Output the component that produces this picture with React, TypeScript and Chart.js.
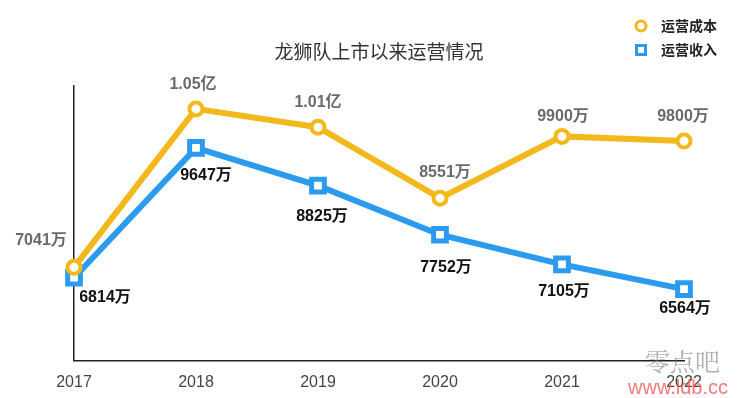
import React, { useEffect, useRef } from "react";
import { Chart, registerables } from "chart.js";

Chart.register(...registerables);

const years = ["2017", "2018", "2019", "2020", "2021", "2022"];
const costValues = [7041, 10500, 10100, 8551, 9900, 9800];
const costLabels = ["7041万", "1.05亿", "1.01亿", "8551万", "9900万", "9800万"];
const revenueValues = [6814, 9647, 8825, 7752, 7105, 6564];
const revenueLabels = ["6814万", "9647万", "8825万", "7752万", "7105万", "6564万"];
const seriesNames = ["运营成本", "运营收入"];
const chartTitle = "龙狮队上市以来运营情况";

const COST_COLOR = "#F2B81C";
const REV_COLOR = "#2C9BEE";

// label offsets (style only): [dx, dy] from point
const costLabelOffsets = [[-33, -27], [-3, -24], [0, -25], [5, -26], [1, -20], [-1, -24]];
const revLabelOffsets = [[31, 20], [10, 28], [4, 31], [6, 33], [2, 27], [1, 19]];

const overlayPlugin = {
  id: "overlay",
  afterDatasetsDraw(chart: any) {
    const ctx = chart.ctx;
    ctx.save();
    ctx.textAlign = "center";
    ctx.textBaseline = "middle";
    ctx.font = 'bold 16px "Liberation Sans", "Noto Sans CJK SC", sans-serif';
    const m0 = chart.getDatasetMeta(0);
    m0.data.forEach((pt: any, i: number) => {
      ctx.fillStyle = "#6a6a6a";
      ctx.fillText(costLabels[i], pt.x + costLabelOffsets[i][0], pt.y + costLabelOffsets[i][1]);
    });
    const m1 = chart.getDatasetMeta(1);
    m1.data.forEach((pt: any, i: number) => {
      ctx.fillStyle = "#111";
      ctx.fillText(revenueLabels[i], pt.x + revLabelOffsets[i][0], pt.y + revLabelOffsets[i][1]);
    });

    const ca = chart.chartArea;
    ctx.fillStyle = "#333";
    ctx.font = '19px "Noto Sans CJK SC", sans-serif';
    ctx.fillText(chartTitle, (ca.left + ca.right) / 2, 52);

    ctx.lineWidth = 3;
    ctx.strokeStyle = COST_COLOR;
    ctx.fillStyle = "#fff";
    ctx.beginPath();
    ctx.arc(641, 26, 5, 0, Math.PI * 2);
    ctx.fill();
    ctx.stroke();
    ctx.strokeStyle = REV_COLOR;
    ctx.beginPath();
    ctx.rect(636.5, 45.5, 9, 9);
    ctx.fill();
    ctx.stroke();
    ctx.fillStyle = "#222";
    ctx.textAlign = "left";
    ctx.font = 'bold 14px "Noto Sans CJK SC", sans-serif';
    ctx.fillText(seriesNames[0], 661, 26);
    ctx.fillText(seriesNames[1], 661, 50);

    ctx.fillStyle = "rgba(110,110,110,0.55)";
    ctx.font = '25px "Noto Serif CJK SC", "Noto Sans CJK SC", serif';
    ctx.fillText("零点吧", 645, 361);
    ctx.fillStyle = "rgba(240,90,90,0.8)";
    ctx.font = '20px "Liberation Sans", sans-serif';
    ctx.fillText("www.ldb.cc", 628, 388);
    ctx.restore();
  },
};

export default function App() {
  const ref = useRef<HTMLCanvasElement>(null);
  useEffect(() => {
    document.body.style.margin = "0";
    const chart = new Chart(ref.current!, {
      type: "line",
      data: {
        labels: years,
        datasets: [
          {
            label: seriesNames[0],
            data: costValues,
            borderColor: COST_COLOR,
            backgroundColor: "#fff",
            borderWidth: 6,
            pointStyle: "circle",
            pointRadius: 6.5,
            pointBorderWidth: 4,
            pointBackgroundColor: "#fff",
            pointBorderColor: COST_COLOR,
            tension: 0,
            clip: false,
          },
          {
            label: seriesNames[1],
            data: revenueValues,
            borderColor: REV_COLOR,
            backgroundColor: "#fff",
            borderWidth: 6,
            pointStyle: "rect",
            pointRadius: 9,
            pointBorderWidth: 5,
            pointBackgroundColor: "#fff",
            pointBorderColor: REV_COLOR,
            tension: 0,
            clip: false,
          },
        ],
      },
      options: {
        animation: false,
        responsive: false,
        layout: { padding: { left: 74, right: 66, top: 86, bottom: -6 } },
        plugins: {
          legend: { display: false },
          title: { display: false },
          tooltip: { enabled: false },
        },
        scales: {
          x: {
            offset: false,
            grid: { display: false, drawTicks: false },
            border: { display: true, color: "#222", width: 1.5 },
            ticks: {
              color: "#444",
              font: { family: '"Liberation Sans", sans-serif', size: 16 },
              padding: 12,
            },
          },
          y: {
            min: 5000,
            max: 11000,
            grid: { display: false, drawTicks: false },
            border: { display: true, color: "#222", width: 1.5 },
            ticks: { display: false },
          },
        },
      },
      plugins: [overlayPlugin],
    });
    return () => chart.destroy();
  }, []);
  return <canvas ref={ref} width={750} height={398} style={{ display: "block" }} />;
}
